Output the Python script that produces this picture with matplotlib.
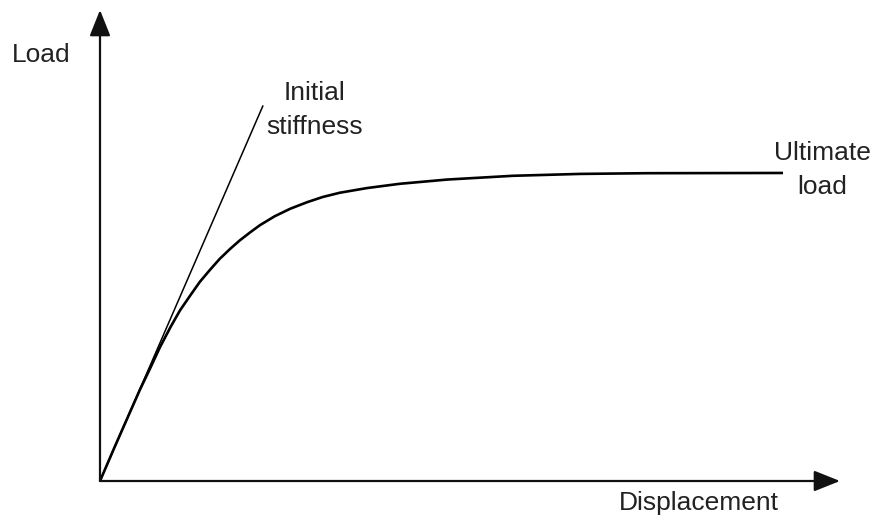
import matplotlib.pyplot as plt

plt.rcParams['font.family'] = ['Liberation Sans', 'DejaVu Sans']

# load-displacement curve (arbitrary units, axes run 0..100)
displacement = [0, 2.0, 4.05, 5.4, 6.8, 8.1, 9.5, 10.8, 12.2, 13.5, 14.9,
                16.2, 17.6, 18.9, 20.3, 21.6, 23.6, 25.7, 28.0, 30.1, 32.4,
                36.1, 40.5, 46.9, 55.8, 64.9, 73.9, 92.3]
load = [0, 7.3, 14.6, 19.4, 24.0, 28.4, 32.6, 36.2, 39.4, 42.3, 44.9,
        47.2, 49.3, 51.1, 52.8, 54.3, 56.2, 57.8, 59.2, 60.3, 61.2,
        62.2, 63.1, 64.0, 64.8, 65.2, 65.35, 65.4]

# tangent at the origin
stiffness_x = [0, 22.0]
stiffness_y = [0, 79.6]

W, H = 874, 518
fig = plt.figure(figsize=(W / 100, H / 100), dpi=100)
x0, y0, x1, y1 = 100, 481, 840, 10
ax = fig.add_axes([x0 / W, (H - y0) / H, (x1 - x0) / W, (y0 - y1) / H])
ax.set_xlim(0, 100)
ax.set_ylim(0, 100)
ax.axis('off')

ax.plot(displacement, load, color='black', lw=1.9, clip_on=False,
        solid_capstyle='butt', solid_joinstyle='round')
ax.plot(stiffness_x, stiffness_y, color='black', lw=1.1, clip_on=False)

# axes with arrow heads
arrow = dict(arrowstyle='-|>,head_length=0.8,head_width=0.32', color='#111111',
             lw=1.6, mutation_scale=20, shrinkA=0, shrinkB=0)
ax.annotate('', xy=(0, 1), xytext=(0, 0), xycoords='axes fraction',
            arrowprops=arrow)
ax.annotate('', xy=(1, 0), xytext=(0, 0), xycoords='axes fraction',
            arrowprops=arrow)

fs = 19
fig.text(12 / W, 1 - 55 / H, 'Load', ha='left', va='center', fontsize=fs,
         color='#222222')
fig.text(315 / W, 1 - 110 / H, 'Initial\nstiffness', ha='center', va='center',
         fontsize=fs, color='#222222', linespacing=1.55)
fig.text(822 / W, 1 - 170 / H, 'Ultimate\nload', ha='center', va='center',
         fontsize=fs, color='#222222', linespacing=1.5)
fig.text(699 / W, 1 - 503 / H, 'Displacement', ha='center', va='center',
         fontsize=fs, color='#222222')

fig.savefig('out.png', dpi=100)
